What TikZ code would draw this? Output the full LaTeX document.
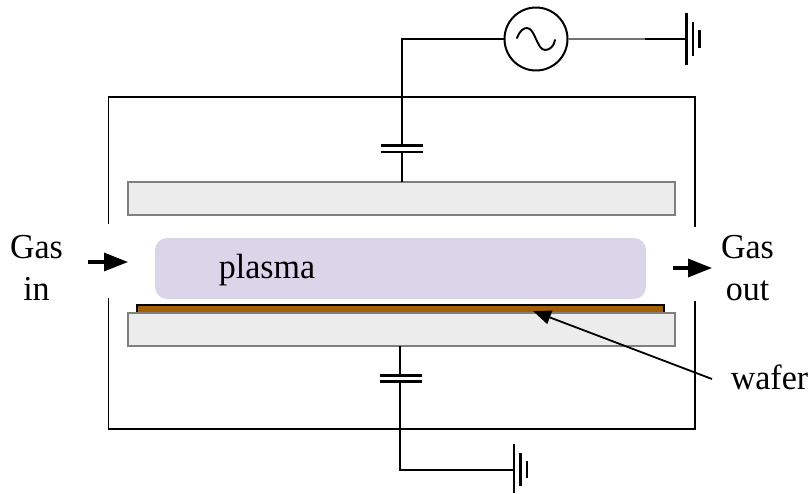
\documentclass[tikz,border=0pt]{standalone}
\usepackage{fontspec}
\setmainfont{Liberation Serif}
\usetikzlibrary{arrows.meta}
\definecolor{elecfill}{HTML}{ECECEC}
\definecolor{elecline}{HTML}{7F7F7F}
\definecolor{plasmafill}{HTML}{DBD5EA}
\definecolor{waferfill}{HTML}{A65F00}
\tikzset{
  wire/.style={draw=black,line width=2pt},
  wall/.style={draw=black,line width=1.9pt},
  capplate/.style={draw=black,line width=2.9pt},
  gplate/.style={draw=black,line width=2.2pt},
  electrode/.style={draw=elecline,fill=elecfill,line width=2pt,inner sep=0pt,outer sep=0pt,minimum width=547.5pt,minimum height=33pt},
  label/.style={font=\fontsize{34}{34}\selectfont,anchor=base,inner sep=0pt,yscale=1.03},
  flow/.style={draw=black,line width=3.2pt,-{Triangle[length=24pt,width=18pt]}},
  pointer/.style={draw=black,line width=1.8pt,-{Triangle[length=18pt,width=14pt]}},
}
\begin{document}
\begin{tikzpicture}[x=1pt,y=-1pt]
\useasboundingbox (0,0) rectangle (811,493);
% chamber
\coordinate (wl1) at (108.5,224); \coordinate (wtl) at (108.5,97); \coordinate (wtr) at (695,97); \coordinate (wr1) at (695,227);
\coordinate (wr2) at (695,301); \coordinate (wbr) at (695,429); \coordinate (wbl) at (108.5,429); \coordinate (wl2) at (108.5,298);
\draw[wall] (wl1) -- (wtl) -- (wtr) -- (wr1);
\draw[wall] (wr2) -- (wbr) -- (wbl) -- (wl2);
% parts
\node[draw=black,fill=waferfill,line width=1.8pt,inner sep=0pt,outer sep=0pt,minimum width=527pt,minimum height=9pt] (wafer) at (400.5,309.5) {};
\node[electrode] (top) at (401.25,198.5) {};
\node[electrode] (bot) at (401.25,329.5) {};
\node[fill=plasmafill,rounded corners=12pt,inner sep=0pt,minimum width=491pt,minimum height=61pt] (plasma) at (400.5,268.5) {};
\node[circle,draw=black,line width=2pt,inner sep=0pt,outer sep=0pt,minimum size=63pt] (src) at (536,39) {};
\draw[line width=1.9pt,line cap=round] (517,38) .. controls (520,30) and (524,28) .. (527,28) .. controls (535,28) and (537,50) .. (545,50) .. controls (550,50) and (554,46) .. (555,40);
% top capacitor
\coordinate (c1a) at (381,145.5); \coordinate (c1b) at (423,145.5); \coordinate (c1c) at (381,152); \coordinate (c1d) at (423,152);
\coordinate (w1) at (401.5,145.5); \coordinate (w2) at (401.5,152); \coordinate (w3) at (401.5,182);
\draw[capplate] (c1a) -- (c1b); \draw[capplate] (c1c) -- (c1d);
\draw[wire] (src.west) -- (401.5,39) -- (w1);
\draw[wire] (w2) -- (w3);
% top ground
\coordinate (g1) at (645,39); \coordinate (g2) at (686.5,39);
\draw[draw=black!55,line width=1.5pt] (src.east) -- (g1);
\draw[line width=2.4pt] (g1) -- (g2);
\draw[gplate] (686.5,13) -- (686.5,65);
\draw[gplate] (693,22) -- (693,56);
\draw[gplate] (699.5,30) -- (699.5,48);
% bottom capacitor
\coordinate (c2a) at (379.5,375.7); \coordinate (c2b) at (421.5,375.7); \coordinate (c2c) at (379.5,381.7); \coordinate (c2d) at (421.5,381.7);
\coordinate (w4) at (400,346); \coordinate (w5) at (400,375.7); \coordinate (w6) at (400,381.7); \coordinate (w7) at (400,469.5); \coordinate (g3) at (514,469.5);
\draw[capplate] (c2a) -- (c2b); \draw[capplate] (c2c) -- (c2d);
\draw[wire] (w4) -- (w5);
\draw[wire] (w6) -- (w7) -- (g3);
\draw[gplate] (514,444) -- (514,493);
\draw[gplate] (520.5,453) -- (520.5,486);
\draw[gplate] (527,461) -- (527,478);
% flows
\coordinate (fi1) at (88,262); \coordinate (fi2) at (128,262);
\coordinate (fo1) at (672.7,268); \coordinate (fo2) at (712,268);
\draw[flow] (fi1) -- (fi2);
\draw[flow] (fo1) -- (fo2);
% labels
\node[label] (gasin) at (36.5,258) {Gas};
\node[label] (in) at (36.5,300.5) {in};
\node[label] (gasout) at (747.5,258) {Gas};
\node[label] (out) at (747.5,300) {out};
\node[label] (pl) at (267,278) {plasma};
\node[label] (wf) at (769.5,389) {wafer};
\coordinate (pa) at (712,379); \coordinate (pb) at (533,311);
\draw[pointer] (pa) -- (pb);
\end{tikzpicture}
\end{document}
